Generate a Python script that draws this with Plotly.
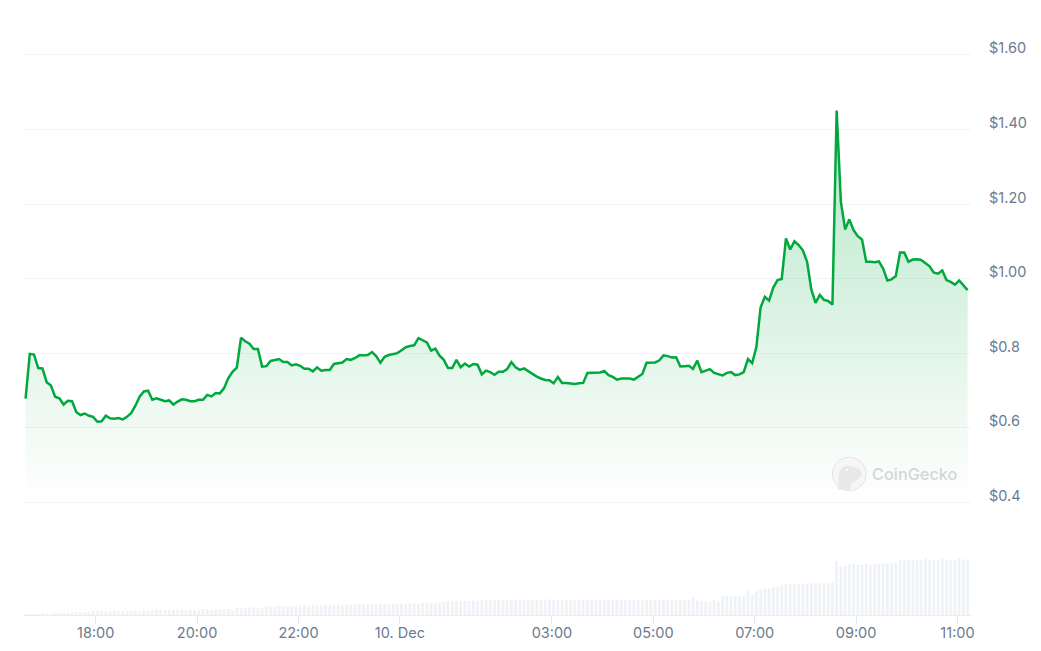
import pandas as pd
import plotly.graph_objects as go

price = [
    0.678, 0.798, 0.796, 0.760, 0.759, 0.722, 0.713, 0.683, 0.679, 0.662,
    0.672, 0.671, 0.642, 0.634, 0.638, 0.632, 0.629, 0.616, 0.617, 0.632,
    0.625, 0.624, 0.626, 0.622, 0.629, 0.639, 0.659, 0.683, 0.697, 0.699,
    0.675, 0.679, 0.675, 0.671, 0.673, 0.662, 0.670, 0.676, 0.675, 0.671,
    0.671, 0.675, 0.675, 0.688, 0.684, 0.693, 0.692, 0.706, 0.733, 0.750,
    0.761, 0.841, 0.832, 0.825, 0.811, 0.811, 0.764, 0.765, 0.779, 0.782,
    0.784, 0.776, 0.776, 0.767, 0.770, 0.766, 0.758, 0.758, 0.751, 0.762,
    0.753, 0.755, 0.755, 0.771, 0.773, 0.775, 0.784, 0.782, 0.787, 0.794,
    0.794, 0.795, 0.803, 0.792, 0.774, 0.790, 0.795, 0.798, 0.800, 0.808,
    0.816, 0.819, 0.821, 0.840, 0.834, 0.829, 0.807, 0.812, 0.793, 0.782,
    0.760, 0.760, 0.782, 0.762, 0.772, 0.764, 0.771, 0.769, 0.743, 0.753,
    0.749, 0.742, 0.750, 0.750, 0.757, 0.776, 0.762, 0.755, 0.759, 0.751,
    0.744, 0.737, 0.732, 0.728, 0.727, 0.719, 0.736, 0.720, 0.720, 0.719,
    0.717, 0.719, 0.720, 0.747, 0.748, 0.747, 0.748, 0.752, 0.741, 0.736,
    0.729, 0.732, 0.732, 0.732, 0.729, 0.737, 0.744, 0.774, 0.774, 0.775,
    0.780, 0.794, 0.792, 0.788, 0.789, 0.764, 0.765, 0.766, 0.758, 0.780,
    0.749, 0.752, 0.757, 0.747, 0.743, 0.740, 0.747, 0.749, 0.741, 0.743,
    0.749, 0.784, 0.773, 0.817, 0.923, 0.951, 0.941, 0.976, 0.996, 0.999,
    1.108, 1.078, 1.100, 1.090, 1.076, 1.045, 0.971, 0.935, 0.956, 0.943,
    0.940, 0.930, 1.451, 1.206, 1.132, 1.159, 1.130, 1.114, 1.105, 1.045,
    1.045, 1.044, 1.046, 1.027, 0.995, 0.998, 1.007, 1.070, 1.070, 1.045,
    1.051, 1.052, 1.050, 1.041, 1.033, 1.016, 1.013, 1.022, 0.996, 0.991,
    0.984, 0.995, 0.982, 0.969,
]

volume = [
    0.3, 0.3, 0.4, 0.4, 1.2, 0.6, 0.8, 1.5, 1.8, 2.2,
    2.4, 2.6, 2.6, 2.6, 2.4, 2.8, 4.2, 4.4, 4.4, 3.2,
    4.0, 4.0, 3.6, 3.8, 3.6, 3.8, 3.8, 3.2, 5.0, 4.2,
    5.2, 5.4, 5.4, 4.8, 5.0, 5.2, 5.2, 5.4, 4.6, 5.0,
    5.0, 4.4, 5.6, 5.6, 4.6, 5.6, 5.2, 6.0, 6.2, 5.0,
    7.4, 6.6, 7.4, 7.6, 7.4, 7.4, 6.6, 8.6, 8.8, 8.2,
    8.8, 8.6, 8.8, 8.2, 9.0, 9.6, 10.2, 9.0, 9.8, 9.6,
    9.2, 9.8, 9.4, 10.2, 10.4, 9.6, 10.4, 10.0, 10.6, 10.8,
    10.4, 10.8, 11.0, 10.6, 11.2, 10.8, 11.2, 11.4, 11.0, 11.4,
    10.8, 11.6, 12.0, 11.2, 12.2, 11.8, 12.4, 12.0, 12.6, 13.0,
    14.0, 13.4, 14.0, 13.8, 14.2, 14.0, 14.6, 14.2, 15.0, 15.0,
    14.8, 15.0, 15.2, 14.6, 15.0, 14.8, 15.4, 15.0, 15.2, 15.6,
    14.8, 15.2, 15.6, 14.6, 15.8, 14.6, 15.2, 15.0, 15.4, 14.8,
    15.6, 15.0, 15.2, 14.8, 15.4, 15.0, 15.2, 15.6, 15.0, 15.4,
    15.0, 15.2, 14.8, 15.4, 15.0, 15.2, 14.6, 15.4, 14.8, 15.0,
    14.6, 15.2, 14.8, 15.2, 14.6, 15.4, 15.6, 15.0, 17.0, 15.4,
    14.0, 13.7, 12.7, 15.0, 14.0, 19.0, 19.0, 19.0, 19.0, 19.0,
    19.0, 24.0, 20.7, 23.7, 25.7, 26.7, 26.7, 28.0, 28.0, 29.7,
    30.7, 30.7, 30.7, 30.7, 31.7, 31.0, 31.7, 31.7, 31.7, 31.7,
    31.7, 32.7, 54.0, 49.0, 49.3, 51.0, 51.7, 50.3, 50.3, 51.3,
    50.3, 51.3, 51.7, 51.7, 51.7, 51.7, 52.7, 55.0, 55.0, 55.0,
    55.0, 55.0, 55.0, 56.7, 55.0, 55.0, 55.0, 56.7, 55.0, 55.0,
    55.0, 56.7, 55.5, 55.5,
]

times = pd.date_range("2024-12-09 16:37", periods=len(price), freq="5min")

y_ticks = [0.4, 0.6, 0.8, 1.0, 1.2, 1.4, 1.6]
y_labels = ["$0.4", "$0.6", "$0.8", "$1.00", "$1.20", "$1.40", "$1.60"]

x_ticks = [
    "2024-12-09 18:00", "2024-12-09 20:00", "2024-12-09 22:00", "2024-12-10 00:00",
    "2024-12-10 03:00", "2024-12-10 05:00", "2024-12-10 07:00", "2024-12-10 09:00",
    "2024-12-10 11:00",
]
x_labels = ["18:00", "20:00", "22:00", "10. Dec", "03:00", "05:00", "07:00", "09:00", "11:00"]

W, H = 1041, 651
LEFT, RIGHT, TOP, BOTTOM = 24, 971, 48.5, 615.5
# price pane ends a few pixels past its outer grid lines, plotly drops grid lines on the range ends
PRICE_BOTTOM = 506.5
PX_PER_USD = 373.3
GREEN = "#00a83e"
LABEL = "#6b7a90"
GRID = "#f2f4f7"


# page pixels to paper coordinates, for the watermark
def px(x):
    return (x - LEFT) / (RIGHT - LEFT)


def py(y):
    return (BOTTOM - y) / (BOTTOM - TOP)


def path(points):
    return "M " + " L ".join(f"{px(x):.5f} {py(y):.5f}" for x, y in points) + " Z"


fig = go.Figure()

fig.add_trace(
    go.Bar(
        x=times, y=volume, yaxis="y2", marker=dict(color="#eff2f6", line_width=0),
        hoverinfo="skip",
    )
)
fig.add_trace(
    go.Scatter(
        x=times, y=price, mode="lines", fill="tozeroy",
        line=dict(color=GREEN, width=2.5),
        fillgradient=dict(
            type="vertical", start=0.4, stop=1.45,
            colorscale=[[0, "rgba(0,168,62,0)"], [1, "rgba(0,168,62,0.29)"]],
        ),
    )
)

# y labels sit above their grid lines, so they are annotations and not tick labels
for v, label in zip(y_ticks, y_labels):
    fig.add_annotation(
        x=px(987), xref="paper", xanchor="left", y=v, yref="y", yshift=7,
        text=label, showarrow=False, font=dict(family="Inter", size=14.5, color=LABEL),
    )

# CoinGecko watermark
fig.add_annotation(
    x=px(870), xref="paper", xanchor="left", y=py(474), yref="paper", yanchor="middle",
    text="CoinGecko", showarrow=False,
    font=dict(family="Inter", size=16.3, color="#d6d6d6", weight=500),
)
fig.add_shape(
    type="circle", xref="paper", yref="paper", x0=px(832.5), x1=px(866), y0=py(491), y1=py(457.5),
    fillcolor="#f6f6f6", line=dict(color="#e4e4e4", width=1),
)
fig.add_shape(
    type="path", xref="paper", yref="paper", fillcolor="#e8e8e8", line_width=0,
    path=path([(838, 490), (839, 473), (842, 468), (847, 466), (854, 467), (860, 470),
               (862, 475), (857, 480), (851, 484), (850, 490)]),
)
fig.add_shape(
    type="circle", xref="paper", yref="paper", x0=px(845.5), x1=px(848), y0=py(471.5), y1=py(469),
    fillcolor="#fafafa", line_width=0,
)

fig.update_layout(
    width=W, height=H, autosize=False, template="plotly_white",
    paper_bgcolor="white", plot_bgcolor="white", showlegend=False, bargap=0.35,
    margin=dict(l=LEFT, r=W - RIGHT, t=TOP, b=H - BOTTOM, pad=0),
    xaxis=dict(
        automargin=False, anchor="y2", range=["2024-12-09 16:35:09", "2024-12-10 11:16:00"],
        tickmode="array", tickvals=x_ticks, ticktext=x_labels,
        ticks="outside", ticklen=8, tickwidth=1, tickcolor="#e6e9ef", ticklabelstandoff=-3,
        showgrid=False, zeroline=False, showline=True, linecolor="#e9ecf1", linewidth=1,
        tickfont=dict(family="Inter", size=14.5, color=LABEL),
    ),
    yaxis=dict(
        automargin=False, domain=[py(PRICE_BOTTOM), 1],
        range=[0.4 - (PRICE_BOTTOM - 502.5) / PX_PER_USD, 1.6 + (54.5 - TOP) / PX_PER_USD],
        tickmode="array", tickvals=y_ticks, showticklabels=False, ticks="",
        showgrid=True, gridcolor=GRID, gridwidth=1, zeroline=False, showline=False,
    ),
    yaxis2=dict(
        automargin=False, domain=[0, py(PRICE_BOTTOM)], range=[0, BOTTOM - PRICE_BOTTOM],
        showticklabels=False, ticks="", showgrid=False, zeroline=False, showline=False,
    ),
)

fig.write_html(
    "out.html",
    config=dict(displayModeBar=False),
    post_script="document.body.style.margin='0';document.body.style.overflow='hidden';",
)
